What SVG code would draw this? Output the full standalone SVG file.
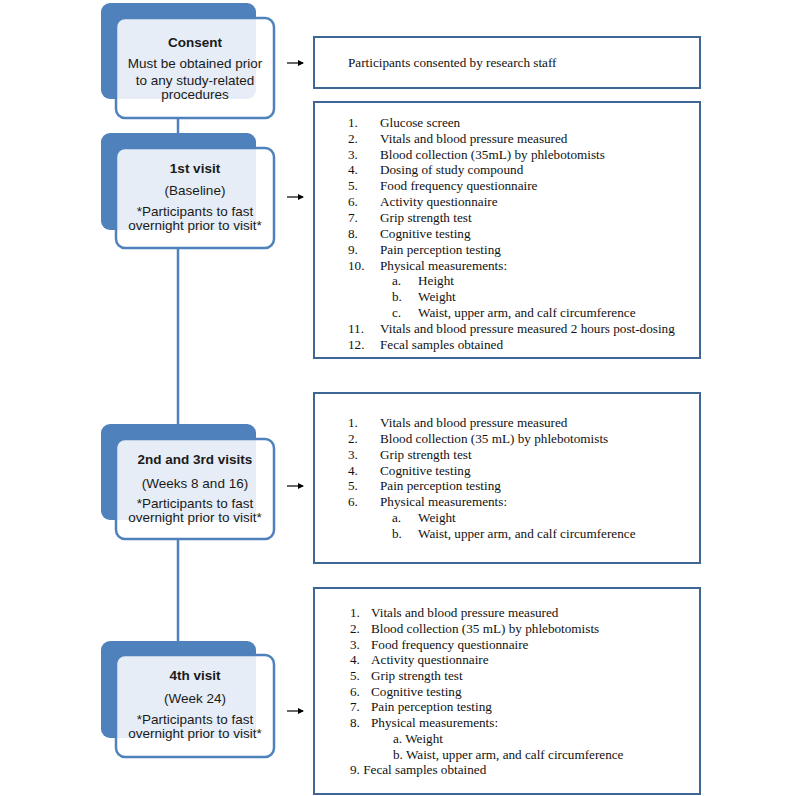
<svg xmlns="http://www.w3.org/2000/svg" width="800" height="796" viewBox="0 0 800 796">
<style>
.back{fill:#4f81bd}
.front{fill:#ffffff;fill-opacity:0.86;stroke:#4f81bd;stroke-width:2.5}
.panel{fill:#ffffff;stroke:#3f6796;stroke-width:2}
.c{font-family:"Liberation Sans",Arial,sans-serif;font-size:13.5px;fill:#1a1a1a;text-anchor:middle}
.b{font-weight:bold}
.t{font-family:"Liberation Serif","Times New Roman",serif;font-size:13.2px;fill:#111}
.vline{stroke:#4f81bd;stroke-width:2.5;fill:none}
.arr{stroke:#000;stroke-width:1.2;fill:none;marker-end:url(#ah)}
</style>
<defs>
<marker id="ah" markerWidth="6" markerHeight="6" refX="5" refY="3" orient="auto" markerUnits="userSpaceOnUse">
<path d="M0,0 L6,3 L0,6 z" fill="#000"/>
</marker>
</defs>
<rect width="800" height="796" fill="#fff"/>
<g id="connectors">
<line class="vline" x1="178" y1="118" x2="178" y2="133"/>
<line class="vline" x1="178" y1="248" x2="178" y2="424"/>
<line class="vline" x1="178" y1="539" x2="178" y2="641"/>
<line class="arr" x1="287" y1="63" x2="303" y2="63"/>
<line class="arr" x1="287" y1="197" x2="303" y2="197"/>
<line class="arr" x1="287" y1="486" x2="303" y2="486"/>
<line class="arr" x1="287" y1="711" x2="303" y2="711"/>
</g>
<g id="consent">
<rect class="back" x="101" y="3" width="155" height="96" rx="9"/>
<rect class="front" x="116" y="18" width="158" height="100" rx="9"/>
<text class="c b" x="195" y="47">Consent</text>
<text class="c" x="195" y="68">Must be obtained prior</text>
<text class="c" x="195" y="85">to any study-related</text>
<text class="c" x="195" y="99">procedures</text>
</g>
<g id="visit1">
<rect class="back" x="101" y="133" width="155" height="97" rx="9"/>
<rect class="front" x="116" y="148" width="158" height="100" rx="9"/>
<text class="c b" x="195" y="173">1st visit</text>
<text class="c" x="195" y="195">(Baseline)</text>
<text class="c" x="195" y="216">*Participants to fast</text>
<text class="c" x="195" y="230">overnight prior to visit*</text>
</g>
<g id="visit23">
<rect class="back" x="101" y="424" width="155" height="96" rx="9"/>
<rect class="front" x="116" y="439" width="158" height="100" rx="9"/>
<text class="c b" x="195" y="464">2nd and 3rd visits</text>
<text class="c" x="195" y="488">(Weeks 8 and 16)</text>
<text class="c" x="195" y="508">*Participants to fast</text>
<text class="c" x="195" y="522">overnight prior to visit*</text>
</g>
<g id="visit4">
<rect class="back" x="101" y="641" width="155" height="97" rx="9"/>
<rect class="front" x="116" y="655" width="158" height="102" rx="9"/>
<text class="c b" x="195" y="680">4th visit</text>
<text class="c" x="195" y="703">(Week 24)</text>
<text class="c" x="195" y="724">*Participants to fast</text>
<text class="c" x="195" y="738">overnight prior to visit*</text>
</g>
<g id="panel-consent">
<rect class="panel" x="314" y="37" width="386" height="51"/>
<text class="t" x="348" y="67">Participants consented by research staff</text>
</g>
<g id="panel-visit1">
<rect class="panel" x="314" y="102" width="386" height="256"/>
<text class="t" x="348" y="127">1.</text><text class="t" x="380" y="127">Glucose screen</text>
<text class="t" x="348" y="143">2.</text><text class="t" x="380" y="143">Vitals and blood pressure measured</text>
<text class="t" x="348" y="159">3.</text><text class="t" x="380" y="159">Blood collection (35mL) by phlebotomists</text>
<text class="t" x="348" y="174">4.</text><text class="t" x="380" y="174">Dosing of study compound</text>
<text class="t" x="348" y="190">5.</text><text class="t" x="380" y="190">Food frequency questionnaire</text>
<text class="t" x="348" y="206">6.</text><text class="t" x="380" y="206">Activity questionnaire</text>
<text class="t" x="348" y="222">7.</text><text class="t" x="380" y="222">Grip strength test</text>
<text class="t" x="348" y="238">8.</text><text class="t" x="380" y="238">Cognitive testing</text>
<text class="t" x="348" y="254">9.</text><text class="t" x="380" y="254">Pain perception testing</text>
<text class="t" x="348" y="270">10.</text><text class="t" x="380" y="270">Physical measurements:</text>
<text class="t" x="392" y="285">a.</text><text class="t" x="418" y="285">Height</text>
<text class="t" x="392" y="301">b.</text><text class="t" x="418" y="301">Weight</text>
<text class="t" x="392" y="317">c.</text><text class="t" x="418" y="317">Waist, upper arm, and calf circumference</text>
<text class="t" x="348" y="333">11.</text><text class="t" x="380" y="333">Vitals and blood pressure measured 2 hours post-dosing</text>
<text class="t" x="348" y="349">12.</text><text class="t" x="380" y="349">Fecal samples obtained</text>
</g>
<g id="panel-visit23">
<rect class="panel" x="314" y="393" width="386" height="170"/>
<text class="t" x="348" y="427">1.</text><text class="t" x="380" y="427">Vitals and blood pressure measured</text>
<text class="t" x="348" y="443">2.</text><text class="t" x="380" y="443">Blood collection (35 mL) by phlebotomists</text>
<text class="t" x="348" y="459">3.</text><text class="t" x="380" y="459">Grip strength test</text>
<text class="t" x="348" y="475">4.</text><text class="t" x="380" y="475">Cognitive testing</text>
<text class="t" x="348" y="490">5.</text><text class="t" x="380" y="490">Pain perception testing</text>
<text class="t" x="348" y="506">6.</text><text class="t" x="380" y="506">Physical measurements:</text>
<text class="t" x="392" y="522">a.</text><text class="t" x="418" y="522">Weight</text>
<text class="t" x="392" y="538">b.</text><text class="t" x="418" y="538">Waist, upper arm, and calf circumference</text>
</g>
<g id="panel-visit4">
<rect class="panel" x="314" y="588" width="386" height="206"/>
<text class="t" x="350" y="617">1.</text><text class="t" x="371" y="617">Vitals and blood pressure measured</text>
<text class="t" x="350" y="633">2.</text><text class="t" x="371" y="633">Blood collection (35 mL) by phlebotomists</text>
<text class="t" x="350" y="649">3.</text><text class="t" x="371" y="649">Food frequency questionnaire</text>
<text class="t" x="350" y="664">4.</text><text class="t" x="371" y="664">Activity questionnaire</text>
<text class="t" x="350" y="680">5.</text><text class="t" x="371" y="680">Grip strength test</text>
<text class="t" x="350" y="696">6.</text><text class="t" x="371" y="696">Cognitive testing</text>
<text class="t" x="350" y="711">7.</text><text class="t" x="371" y="711">Pain perception testing</text>
<text class="t" x="350" y="727">8.</text><text class="t" x="371" y="727">Physical measurements:</text>
<text class="t" x="393" y="743">a. Weight</text>
<text class="t" x="393" y="759">b. Waist, upper arm, and calf circumference</text>
<text class="t" x="350" y="774">9. Fecal samples obtained</text>
</g>
</svg>
